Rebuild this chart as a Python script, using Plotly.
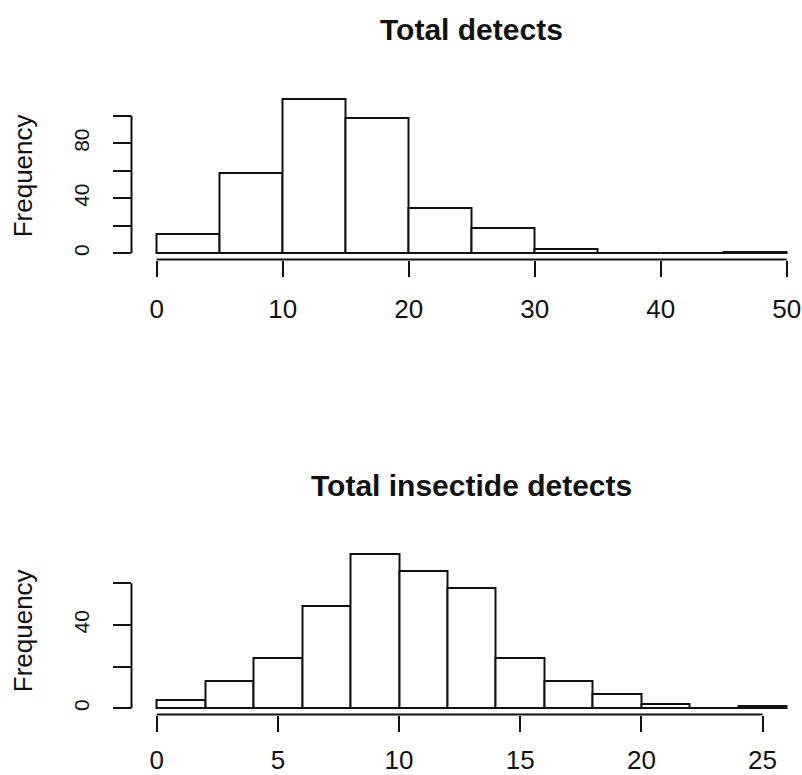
import plotly.graph_objects as go

# ---- data ----
top_edges = [0, 5, 10, 15, 20, 25, 30, 35, 40, 45, 50]
top_counts = [14, 58, 112, 98, 33, 18, 3, 0, 0, 1]
top_xticks = [0, 10, 20, 30, 40, 50]
top_yticks = [0, 20, 40, 60, 80, 100]
top_ytext = ["0", "", "40", "", "80", ""]

bot_edges = [0, 2, 4, 6, 8, 10, 12, 14, 16, 18, 20, 22, 24, 26]
bot_counts = [4, 13, 24, 49, 74, 66, 58, 24, 13, 7, 2, 0, 1]
bot_xticks = [0, 5, 10, 15, 20, 25]
bot_yticks = [0, 20, 40, 60]
bot_ytext = ["0", "", "40", ""]

titles = ["Total detects", "Total insectide detects"]
ylabel = "Frequency"

W, H = 802, 775
FONT = "Liberation Sans, Arial, Helvetica, sans-serif"
LW = 2
INK = "#111111"


def bars(edges, counts, xa, ya):
    centers = [(a + b) / 2 for a, b in zip(edges[:-1], edges[1:])]
    widths = [b - a for a, b in zip(edges[:-1], edges[1:])]
    return go.Bar(x=centers, y=counts, width=widths, xaxis=xa, yaxis=ya,
                  marker=dict(color="white", line=dict(color=INK, width=LW)),
                  showlegend=False, hoverinfo="x+y")


def rng(lo, hi):
    pad = 0.04 * (hi - lo)
    return lo - pad, hi + pad


fig = go.Figure()
fig.add_trace(bars(top_edges, top_counts, "x", "y"))
fig.add_trace(bars(bot_edges, bot_counts, "x2", "y2"))

left_px = 131.5


def xaxis_cfg(edges, ticks, standoff):
    lo, hi = rng(edges[0], edges[-1])
    # pixel scale from the R plot region width (which runs beyond the image)
    full_w = 812.0 - left_px
    scale = full_w / (hi - lo)
    right_val = lo + (W - left_px) / scale
    return dict(domain=[left_px / W, 1.0], range=[lo, right_val],
                tickvals=ticks, ticks="outside", ticklen=16, tickwidth=LW,
                tickcolor=INK, showline=False, showgrid=False, zeroline=False,
                tickfont=dict(family=FONT, size=26, color=INK),
                ticklabelstandoff=standoff, fixedrange=True, automargin=False)


def yaxis_cfg(counts, ticks, text, dom):
    lo, hi = rng(0, max(counts))
    return dict(domain=dom, range=[lo, hi], tickvals=ticks, ticktext=text,
                tickangle=-90, ticks="outside", ticklen=18, tickwidth=LW,
                tickcolor=INK, showline=False, showgrid=False, zeroline=False,
                tickfont=dict(family=FONT, size=21, color=INK),
                ticklabelstandoff=15, fixedrange=True, automargin=False)


top_dom = [1 - 259.5 / H, 1 - 93.1 / H]
bot_dom = [1 - 714.5 / H, 1 - 548.0 / H]

fig.update_layout(
    width=W, height=H, margin=dict(l=0, r=0, t=0, b=0, autoexpand=False),
    paper_bgcolor="white", plot_bgcolor="white",
    bargap=0,
    xaxis=xaxis_cfg(top_edges, top_xticks, 10),
    yaxis=yaxis_cfg(top_counts, top_yticks, top_ytext, top_dom),
    xaxis2=xaxis_cfg(bot_edges, bot_xticks, 6),
    yaxis2=yaxis_cfg(bot_counts, bot_yticks, bot_ytext, bot_dom),
)
fig.layout.xaxis2.anchor = "y2"
fig.layout.yaxis2.anchor = "x2"

# R-style axis lines spanning only the tick range
shapes = []
for xa, ya, xt, yt in [("x", "y", top_xticks, top_yticks), ("x2", "y2", bot_xticks, bot_yticks)]:
    shapes.append(dict(type="line", xref=xa, yref=ya + " domain", x0=xt[0], x1=xt[-1], y0=0, y1=0,
                       line=dict(color=INK, width=LW)))
    shapes.append(dict(type="line", xref=xa + " domain", yref=ya, x0=0, x1=0, y0=yt[0], y1=yt[-1],
                       line=dict(color=INK, width=LW)))
fig.update_layout(shapes=shapes)

annotations = []
title_x = 471 / W
for t, ty in zip(titles, [29, 485]):
    annotations.append(dict(text="<b>%s</b>" % t, x=title_x, y=1 - ty / H, xref="paper", yref="paper",
                            xanchor="center", yanchor="middle", showarrow=False,
                            font=dict(family=FONT, size=30, color=INK)))
for dom in [top_dom, bot_dom]:
    annotations.append(dict(text=ylabel, x=23 / W, y=(dom[0] + dom[1]) / 2, xref="paper", yref="paper",
                            xanchor="center", yanchor="middle", textangle=-90, showarrow=False,
                            font=dict(family=FONT, size=26, color=INK)))
fig.update_layout(annotations=annotations)

fig.write_html("out.html",
               config={"displayModeBar": False, "staticPlot": False},
               post_script="document.body.style.margin='0';document.body.style.overflow='hidden';")
